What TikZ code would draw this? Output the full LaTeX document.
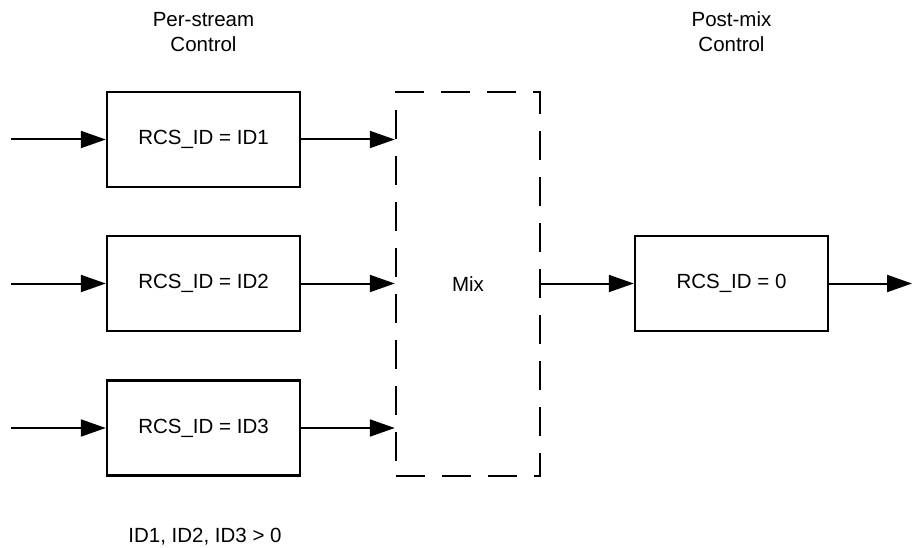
\documentclass[tikz,border=0pt]{standalone}
\usepackage{fontspec}
\setmainfont{Liberation Sans}
\usetikzlibrary{arrows.meta, positioning}
\tikzset{
    ctrlbox/.style={draw, line width=2.4pt, minimum width=193pt, minimum height=95pt, inner sep=0pt},
    mixbox/.style={draw, line width=2.4pt, dash pattern=on 29pt off 17pt, minimum width=144pt, minimum height=384pt, inner sep=0pt},
    flow/.style={line width=2pt, -{Triangle[length=25pt, width=17pt]}},
    caption/.style={align=center}
}

\begin{document}
\begin{tikzpicture}[x=1pt, y=-1pt, font=\fontsize{20.5}{25}\selectfont]
    \useasboundingbox (0,0) rectangle (912,548);
    % per-stream boxes
    \node[ctrlbox] (ctrlA) at (203.5,139.5) {RCS\_ID = ID1};
    \node[ctrlbox] (ctrlB) at (203.5,283.5) {RCS\_ID = ID2};
    \node[ctrlbox] (ctrlC) at (203.5,428) {RCS\_ID = ID3};
    % mixer and post-mix box
    \node[mixbox] (mix) at (468,284) {Mix};
    \node[ctrlbox] (post) at (731.5,283.5) {RCS\_ID = 0};
    % captions
    \node[caption] (capPer) at (203.5,32) {Per-stream\\Control};
    \node[caption] (capPost) at (731.5,32) {Post-mix\\Control};
    \node (cond) at (205,537) {ID1, ID2, ID3 > 0};
    % free ends
    \coordinate (inA) at (11,139.5);
    \coordinate (inB) at (11,283.5);
    \coordinate (inC) at (11,428);
    \coordinate (out) at (912,283.5);
    % connectors
    \draw[flow] (inA) -- (ctrlA);
    \draw[flow] (inB) -- (ctrlB);
    \draw[flow] (inC) -- (ctrlC);
    \draw[flow] (ctrlA) -- (mix.west |- ctrlA);
    \draw[flow] (ctrlB) -- (mix.west |- ctrlB);
    \draw[flow] (ctrlC) -- (mix.west |- ctrlC);
    \draw[flow] (mix.east |- post) -- (post);
    \draw[flow] (post) -- (out);
\end{tikzpicture}
\end{document}
